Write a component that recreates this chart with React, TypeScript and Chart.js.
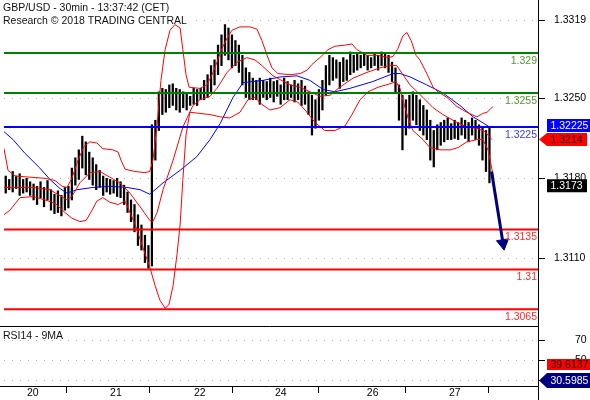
import React, { useEffect, useRef } from 'react';
import { Chart, registerables } from 'chart.js';

Chart.register(...registerables);

// ---------------- data ----------------
const titleLines = ['GBP/USD - 30min - 13:37:42 (CET)', 'Research \u00A9 2018 TRADING CENTRAL'];
const rsiTitle = 'RSI14 - 9MA';

const priceTicks = [1.3319, 1.325, 1.318, 1.311];
const rsiTicks = [70, 50, 30];
const dayTickPos = [5.5, 29.4, 53.5, 76.8, 103.2, 126.8];
const dayLabels = ['20', '21', '22', '24', '26', '27'];

const levelValues = [1.329, 1.3255, 1.3225, 1.3135, 1.31, 1.3065];
const levelLabels = ['1.329', '1.3255', '1.3225', '1.3135', '1.31', '1.3065'];

const lastPrice = 1.3173;
const bandMidLast = 1.3214;
const blueLevelQuote = '1.32225';
const rsiLast = 30.5985;
const rsiMaLast = 39.6137;

// hourly bars [low, high]
const barRanges = [
  [1.3167, 1.3182], [1.3170, 1.3179], [1.3168, 1.3186], [1.3171, 1.3182], [1.3165, 1.3184], [1.3167, 1.3179],
  [1.3168, 1.3180], [1.3165, 1.3177], [1.3161, 1.3175], [1.3157, 1.3173], [1.3163, 1.3177], [1.3155, 1.3172],
  [1.3161, 1.3178], [1.3152, 1.3170], [1.3149, 1.3166], [1.3150, 1.3169], [1.3147, 1.3165], [1.3152, 1.3172], [1.3154, 1.3173],
  [1.3161, 1.3189], [1.3174, 1.3198], [1.3179, 1.3205], [1.3189, 1.3217], [1.3183, 1.3212], [1.3179, 1.3203],
  [1.3174, 1.3198], [1.3170, 1.3192], [1.3172, 1.3187], [1.3165, 1.3182], [1.3168, 1.3180], [1.3166, 1.3179], [1.3167, 1.3178], [1.3164, 1.3180], [1.3163, 1.3177],
  [1.3157, 1.3174], [1.3150, 1.3168], [1.3142, 1.3161], [1.3133, 1.3157], [1.3121, 1.3148], [1.3117, 1.3139], [1.3106, 1.3130], [1.3101, 1.3121], [1.3103, 1.3227],
  [1.3196, 1.3231], [1.3222, 1.3256], [1.3236, 1.3259], [1.3238, 1.3258], [1.3242, 1.3262], [1.3244, 1.3263], [1.3240, 1.3259],
  [1.3238, 1.3258], [1.3242, 1.3256], [1.3240, 1.3254], [1.3244, 1.3252], [1.3245, 1.3259], [1.3244, 1.3258], [1.3249, 1.3259],
  [1.3249, 1.3266], [1.3251, 1.3271], [1.3256, 1.3279], [1.3262, 1.3284], [1.3271, 1.3297], [1.3279, 1.3306], [1.3288, 1.3315],
  [1.3284, 1.3312], [1.3277, 1.3306], [1.3279, 1.3301], [1.3273, 1.3297], [1.3262, 1.3288], [1.3251, 1.3277], [1.3249, 1.3273],
  [1.3249, 1.3268], [1.3249, 1.3266], [1.3245, 1.3268], [1.3251, 1.3266], [1.3249, 1.3265], [1.3251, 1.3268], [1.3247, 1.3265],
  [1.3252, 1.3266], [1.3245, 1.3262], [1.3249, 1.3268], [1.3249, 1.3265], [1.3251, 1.3262], [1.3247, 1.3266], [1.3249, 1.3263],
  [1.3244, 1.3266], [1.3245, 1.3261], [1.3236, 1.3256], [1.3218, 1.3253], [1.3224, 1.3249], [1.3231, 1.3258], [1.3240, 1.3266],
  [1.3253, 1.3279], [1.3262, 1.3288], [1.3266, 1.3286], [1.3268, 1.3284], [1.3259, 1.3282], [1.3265, 1.3286], [1.3266, 1.3284],
  [1.3271, 1.3291], [1.3273, 1.3288], [1.3275, 1.3289], [1.3277, 1.3288], [1.3279, 1.3290], [1.3275, 1.3288], [1.3277, 1.3286],
  [1.3279, 1.3289], [1.3275, 1.3288], [1.3279, 1.3291], [1.3277, 1.3289], [1.3273, 1.3288], [1.3265, 1.3282], [1.3256, 1.3277],
  [1.3231, 1.3262], [1.3205, 1.3253], [1.3218, 1.3249], [1.3224, 1.3253], [1.3231, 1.3256], [1.3227, 1.3253], [1.3222, 1.3249],
  [1.3218, 1.3244], [1.3214, 1.3240], [1.3196, 1.3231], [1.3190, 1.3222], [1.3205, 1.3227], [1.3209, 1.3229], [1.3212, 1.3231],
  [1.3214, 1.3233], [1.3214, 1.3228], [1.3215, 1.3231], [1.3214, 1.3229], [1.3218, 1.3233], [1.3215, 1.3231], [1.3212, 1.3229],
  [1.3218, 1.3233], [1.3214, 1.3231], [1.3209, 1.3227], [1.3196, 1.3224], [1.3186, 1.3222], [1.3176, 1.3224],
];

// [bar index, price]
const upperBand = [
  [-0.5, 1.3206], [0.65, 1.3187], [2.7, 1.3182], [7.0, 1.3181], [11.3, 1.3180], [14.2, 1.3178], [16.2, 1.3173], [17.6, 1.3172],
  [19.0, 1.3180], [20.8, 1.3196], [22.5, 1.3208], [24.2, 1.3212], [26.2, 1.3211], [27.9, 1.3206], [30.8, 1.3205], [32.3, 1.3203],
  [33.1, 1.3196], [34.3, 1.3188], [37.1, 1.3186], [40.0, 1.3185], [41.4, 1.3186], [42.3, 1.3196], [43.5, 1.3227], [44.6, 1.3266],
  [45.8, 1.3293], [47.2, 1.3310], [48.6, 1.3315], [50.1, 1.3312], [50.9, 1.3293], [51.8, 1.3271], [52.7, 1.3260], [55.8, 1.3259],
  [57.8, 1.3262], [59.3, 1.3271], [60.7, 1.3282], [62.1, 1.3294], [63.6, 1.3303], [65.0, 1.3310], [67.3, 1.3313], [70.2, 1.3313],
  [72.2, 1.3311], [73.6, 1.3301], [75.1, 1.3288], [76.5, 1.3277], [78.2, 1.3272], [81.7, 1.3271], [84.6, 1.3272], [86.6, 1.3275],
  [88.0, 1.3280], [90.3, 1.3286], [92.6, 1.3293], [94.6, 1.3296], [97.5, 1.3297], [99.5, 1.3298], [100.9, 1.3293], [103.8, 1.3288],
  [107.0, 1.3288], [109.8, 1.3286], [111.3, 1.3287], [112.7, 1.3294], [114.1, 1.3305], [115.3, 1.3308], [116.5, 1.3301],
  [117.9, 1.3288], [119.0, 1.3284], [121.0, 1.3272], [122.8, 1.3260], [124.2, 1.3256], [126.8, 1.3251], [129.7, 1.3243],
  [132.5, 1.3238], [135.4, 1.3234], [137.1, 1.3237], [138.3, 1.3238], [140.0, 1.3243],
];

const middleBand = [
  [-0.5, 1.3172], [4.1, 1.3172], [7.8, 1.3172], [12.7, 1.3170], [17.6, 1.3161], [19.0, 1.3164], [21.3, 1.3176], [24.2, 1.3185],
  [27.1, 1.3186], [29.9, 1.3181], [32.8, 1.3176], [35.7, 1.3167], [38.6, 1.3155], [41.4, 1.3143], [42.3, 1.3142], [43.5, 1.3150],
  [45.2, 1.3170], [48.1, 1.3196], [50.9, 1.3225], [53.8, 1.3244], [55.8, 1.3249], [58.7, 1.3252], [60.7, 1.3259], [63.6, 1.3273],
  [66.5, 1.3282], [69.3, 1.3286], [71.6, 1.3284], [73.6, 1.3279], [76.8, 1.3270], [81.7, 1.3262], [84.6, 1.3260], [87.4, 1.3256],
  [90.3, 1.3252], [93.2, 1.3253], [96.0, 1.3260], [99.8, 1.3268], [103.8, 1.3273], [107.5, 1.3277], [110.4, 1.3279],
  [112.4, 1.3279], [113.9, 1.3272], [116.2, 1.3262], [119.9, 1.3251], [122.8, 1.3242], [125.6, 1.3236], [129.7, 1.3229],
  [132.5, 1.3225], [135.4, 1.3224], [137.7, 1.3221], [139.7, 1.3214],
];

const lowerBand = [
  [-0.5, 1.3148], [1.2, 1.3152], [4.1, 1.3163], [7.8, 1.3164], [11.3, 1.3161], [14.2, 1.3158], [17.0, 1.3150], [19.0, 1.3145],
  [21.3, 1.3142], [23.1, 1.3143], [24.8, 1.3152], [26.2, 1.3160], [27.9, 1.3163], [29.9, 1.3159], [32.3, 1.3157], [34.3, 1.3160],
  [37.1, 1.3140], [40.0, 1.3114], [41.4, 1.3102], [42.9, 1.3086], [44.3, 1.3073], [45.8, 1.3066], [46.9, 1.3069], [48.1, 1.3086],
  [49.2, 1.3113], [50.1, 1.3139], [50.9, 1.3179], [51.8, 1.3218], [52.9, 1.3238], [55.8, 1.3237], [58.7, 1.3236], [61.6, 1.3234],
  [64.4, 1.3233], [67.3, 1.3238], [69.6, 1.3249], [71.6, 1.3251], [73.6, 1.3245], [75.9, 1.3240], [78.8, 1.3242], [81.7, 1.3249],
  [83.9, 1.3247], [86.0, 1.3240], [88.9, 1.3229], [91.7, 1.3222], [94.6, 1.3222], [97.5, 1.3226], [99.5, 1.3236], [101.8, 1.3249],
  [104.1, 1.3256], [107.0, 1.3260], [110.4, 1.3263], [112.1, 1.3265], [113.3, 1.3259], [114.1, 1.3249], [115.6, 1.3233],
  [117.0, 1.3222], [119.9, 1.3214], [121.9, 1.3207], [124.8, 1.3205], [127.7, 1.3205], [130.0, 1.3207], [132.5, 1.3212],
  [135.4, 1.3214], [137.1, 1.3214], [138.6, 1.3205], [140.3, 1.3179],
];

const blueMa = [
  [-0.5, 1.3221], [2.1, 1.3214], [5.5, 1.3202], [9.8, 1.3189], [12.7, 1.3179], [15.6, 1.3171], [17.6, 1.3167], [20.5, 1.3170],
  [25.1, 1.3172], [29.9, 1.3173], [34.8, 1.3172], [38.6, 1.3170], [41.4, 1.3166], [45.2, 1.3176], [50.1, 1.3187], [54.9, 1.3199],
  [58.7, 1.3214], [61.6, 1.3228], [65.3, 1.3251], [68.2, 1.3264], [73.9, 1.3266], [78.8, 1.3269], [83.7, 1.3270], [87.4, 1.3266],
  [91.2, 1.3258], [94.6, 1.3256], [98.9, 1.3259], [105.5, 1.3265], [111.3, 1.3272], [113.3, 1.3272], [116.2, 1.3269],
  [121.0, 1.3262], [125.6, 1.3255], [130.5, 1.3244], [134.3, 1.3234], [139.1, 1.3225],
];

// [bar index, RSI]
const rsiLine = [
  [-0.5, 37], [0.4, 44], [1.8, 46], [3.2, 48], [4.7, 43], [6.1, 47], [7.5, 45], [9.0, 40], [10.4, 45], [11.9, 49], [13.3, 52],
  [14.7, 44], [16.2, 46], [17.6, 50], [19.0, 63], [19.9, 66], [20.8, 58], [21.9, 64], [22.5, 67], [23.6, 58], [24.8, 55],
  [26.2, 48], [27.7, 50], [29.1, 45], [30.5, 47], [32.0, 42], [33.4, 45], [34.8, 40], [36.3, 38], [37.7, 27], [38.6, 35],
  [39.4, 32], [40.6, 28], [41.4, 38], [42.0, 63], [42.9, 70], [43.8, 73], [44.9, 75], [46.3, 70], [47.2, 72], [48.6, 67],
  [50.1, 63], [51.5, 60], [52.9, 62], [54.4, 58], [55.8, 63], [57.3, 62], [58.7, 65], [60.1, 67], [61.6, 72], [62.7, 76],
  [63.9, 73], [65.0, 58], [66.2, 52], [67.3, 55], [68.5, 40], [69.6, 45], [70.8, 42], [72.2, 45], [73.6, 44], [75.1, 46],
  [76.5, 48], [77.9, 48], [79.4, 53], [80.8, 47], [82.3, 50], [83.7, 47], [84.6, 50], [85.4, 45], [87.4, 40], [88.3, 28],
  [89.4, 43], [90.3, 40], [91.2, 50], [92.3, 60], [93.2, 62], [94.6, 57], [96.0, 57], [98.1, 58], [99.8, 57], [101.8, 57],
  [104.7, 55], [106.7, 58], [107.5, 62], [108.4, 58], [110.4, 57], [111.0, 40], [112.4, 40], [113.3, 37], [114.7, 25],
  [116.2, 37], [118.2, 38], [119.9, 35], [121.9, 28], [122.8, 43], [124.8, 42], [126.8, 45], [128.5, 47], [130.5, 48],
  [132.5, 47], [134.0, 45], [134.8, 51], [136.3, 35], [137.1, 47], [138.6, 48], [139.7, 30.6],
];

const rsiMa = [
  [-0.5, 35], [2.1, 42], [6.1, 43], [9.8, 42], [13.6, 42], [17.6, 45], [20.5, 53], [23.3, 60], [26.2, 57], [29.1, 48],
  [32.8, 45], [36.6, 40], [39.4, 33], [40.9, 35], [42.3, 50], [44.3, 67], [46.3, 72], [50.1, 68], [53.8, 62], [57.8, 62],
  [61.6, 70], [64.4, 70], [66.5, 63], [69.3, 53], [72.2, 47], [75.1, 47], [79.7, 47], [83.7, 48], [87.4, 43], [90.3, 42],
  [94.0, 55], [98.9, 57], [105.5, 57], [109.5, 58], [111.3, 50], [114.1, 37], [117.0, 33], [119.9, 37], [123.9, 38],
  [127.7, 43], [131.4, 47], [135.4, 45], [138.3, 43], [139.7, 39.6],
];

const rsiTrend = [[62.1, 75], [152.95, 48.3]];
const forecastArrow = [[139.6, 1.3186], [142.9, 1.3123]];

// axis ranges
const X_MIN = -0.5;
const X_MAX = 152.95;
const Y_MIN = 1.30503;
const Y_MAX = 1.33366;
const R_MIN = 24;
const R_MAX = 84;

// ---------------- styles ----------------
const FAMILY = '"Liberation Sans", Arial, Helvetica, sans-serif';
const FS = 10.5;
const FONT = `${FS}px ${FAMILY}`;
const levelLineColors = ['#008000', '#008000', '#0000ff', '#ff0000', '#ff0000', '#ff0000'];
const levelTextColors = ['#4f9a2c', '#4f9a2c', '#3838ff', '#ff2a2a', '#ff2a2a', '#ff2a2a'];

export default function App() {
  const ref = useRef<HTMLCanvasElement>(null);

  useEffect(() => {
    const canvas = ref.current as HTMLCanvasElement;
    const toXY = (arr: number[][]) => arr.map(([x, y]) => ({ x, y }));
    const resetPad = (s: any) => {
      s.paddingLeft = 0;
      s.paddingRight = 0;
      s.paddingTop = 0;
      s.paddingBottom = 0;
    };
    const lineDs = (data: number[][], color: string, axis: string, order: number, width = 1): any => ({
      type: 'line',
      data: toXY(data),
      borderColor: color,
      backgroundColor: color,
      borderWidth: width,
      pointRadius: 0,
      tension: 0,
      fill: false,
      xAxisID: 'x',
      yAxisID: axis,
      order,
    });

    const datasets: any[] = [
      {
        type: 'bar',
        data: barRanges.map((b, i) => ({ x: i, y: b })),
        backgroundColor: '#000',
        borderWidth: 0,
        barThickness: 1.6,
        xAxisID: 'x',
        yAxisID: 'y',
        order: 20,
      },
      lineDs(blueMa, '#0000ff', 'y', 10),
      lineDs(upperBand, '#ff0000', 'y', 9),
      lineDs(middleBand, '#ff0000', 'y', 9),
      lineDs(lowerBand, '#ff0000', 'y', 9),
      ...levelValues.map((v, k) => lineDs([[X_MIN, v], [X_MAX, v]], levelLineColors[k], 'y', 5, 2)),
      {
        ...lineDs(forecastArrow, '#000080', 'y', 1, 3),
        pointRadius: [0, 7],
        pointStyle: 'triangle',
        pointRotation: [0, 171],
        pointBackgroundColor: '#000080',
        pointBorderColor: '#000080',
        pointBorderWidth: 1,
      },
      lineDs(rsiMa, '#ff0000', 'r', 4),
      lineDs(rsiLine, '#000080', 'r', 3),
      lineDs(rsiTrend, '#000080', 'r', 2, 2.5),
    ];

    const drawBox = (ctx: CanvasRenderingContext2D, yc: number, h: number, x0: number, x1: number,
      fill: string, textColor: string, text: string, tip?: number) => {
      ctx.fillStyle = fill;
      ctx.beginPath();
      if (tip !== undefined) {
        ctx.moveTo(tip, yc);
        ctx.lineTo(x0, yc - h / 2);
        ctx.lineTo(x1, yc - h / 2);
        ctx.lineTo(x1, yc + h / 2);
        ctx.lineTo(x0, yc + h / 2);
      } else {
        ctx.rect(x0, yc - h / 2, x1 - x0, h);
      }
      ctx.closePath();
      ctx.fill();
      ctx.fillStyle = textColor;
      ctx.textAlign = 'left';
      ctx.textBaseline = 'middle';
      ctx.fillText(text, x0 + 3.5, yc + 0.5);
    };

    const overlay = {
      id: 'overlay',
      beforeDatasetsDraw(chart: any) {
        const ctx = chart.ctx as CanvasRenderingContext2D;
        ctx.save();
        ctx.font = FONT;
        const w = Math.max(...titleLines.map((t) => ctx.measureText(t).width));
        ctx.fillStyle = '#fff';
        ctx.fillRect(0, 0, w + 5, 25);
        ctx.restore();
      },
      afterDraw(chart: any) {
        const ctx = chart.ctx as CanvasRenderingContext2D;
        const area = chart.chartArea;
        const yS = chart.scales.y;
        const rS = chart.scales.r;
        ctx.save();
        // frame lines
        ctx.strokeStyle = '#000';
        ctx.lineWidth = 1;
        ctx.beginPath();
        const ax = Math.round(area.right) + 0.5;
        ctx.moveTo(ax, 0);
        ctx.lineTo(ax, chart.height);
        const sep = Math.round(rS.top) + 0.5;
        ctx.moveTo(0, sep);
        ctx.lineTo(ax, sep);
        const bot = Math.round(rS.bottom) + 0.5;
        ctx.moveTo(0, bot);
        ctx.lineTo(ax, bot);
        ctx.stroke();

        // title
        ctx.font = FONT;
        ctx.fillStyle = '#111';
        ctx.textAlign = 'left';
        ctx.textBaseline = 'alphabetic';
        ctx.fillText(titleLines[0], 3, 10.5);
        ctx.fillText(titleLines[1], 3, 23.5);
        ctx.fillText(rsiTitle, 3, 339);

        // level labels
        ctx.textAlign = 'right';
        ctx.textBaseline = 'middle';
        levelValues.forEach((v, k) => {
          ctx.fillStyle = levelTextColors[k];
          ctx.fillText(levelLabels[k], area.right - 1, yS.getPixelForValue(v) + 8);
        });

        // price boxes
        drawBox(ctx, yS.getPixelForValue(levelValues[2]) - 1.5, 13, 547, 590, '#0000ff', '#fff', blueLevelQuote);
        drawBox(ctx, yS.getPixelForValue(bandMidLast), 13, 547, 587, '#ff0000', '#1a0000', bandMidLast.toFixed(4), 539);
        drawBox(ctx, yS.getPixelForValue(lastPrice) - 0.5, 13, 547, 587, '#000000', '#fff', lastPrice.toFixed(4));
        drawBox(ctx, rS.getPixelForValue(rsiMaLast) - 6, 11, 547, 590, '#ff0000', '#1a0000', rsiMaLast.toFixed(4));
        drawBox(ctx, rS.getPixelForValue(rsiLast) + 1, 15, 547, 590, '#000080', '#fff', rsiLast.toFixed(4), 539);
        ctx.restore();
      },
    };

    const font = { family: FAMILY, size: FS };
    const chart = new Chart(canvas, {
      type: 'line',
      data: { datasets },
      options: {
        animation: false,
        responsive: false,
        events: [],
        layout: { autoPadding: false, padding: { left: 4, right: 0, top: 0, bottom: 0 } },
        plugins: { legend: { display: false }, tooltip: { enabled: false } },
        scales: {
          x: {
            type: 'linear',
            position: 'bottom',
            min: X_MIN,
            max: X_MAX,
            offset: false,
            border: { display: false },
            grid: { drawOnChartArea: false, drawTicks: true, tickLength: 7, tickColor: '#000', tickWidth: 1 },
            ticks: {
              align: 'start',
              labelOffset: 2,
              padding: -6,
              autoSkip: false,
              maxRotation: 0,
              minRotation: 0,
              color: '#000',
              font,
              callback: (_v: any, i: number) => dayLabels[i] ?? '',
            },
            afterBuildTicks: (s: any) => { s.ticks = dayTickPos.map((v) => ({ value: v })); },
            afterFit: (s: any) => { s.height = 14; resetPad(s); },
          },
          y: {
            type: 'linear',
            position: 'right',
            stack: 'panes',
            stackWeight: 326,
            min: Y_MIN,
            max: Y_MAX,
            border: { display: false, dash: [1, 7] },
            grid: { color: '#b0b0b0', drawTicks: true, tickLength: 7, tickColor: '#000', tickWidth: 1, tickBorderDash: [] },
            ticks: { padding: 9, color: '#000', font, autoSkip: false, callback: (v: any) => Number(v).toFixed(4) },
            afterBuildTicks: (s: any) => { s.ticks = priceTicks.map((v) => ({ value: v })); },
            afterFit: (s: any) => { s.width = 52; resetPad(s); },
          },
          r: {
            type: 'linear',
            position: 'right',
            stack: 'panes',
            stackWeight: 60,
            min: R_MIN,
            max: R_MAX,
            border: { display: false, dash: [1, 7] },
            grid: { color: '#b0b0b0', drawTicks: true, tickLength: 7, tickColor: '#000', tickWidth: 1, tickBorderDash: [] },
            ticks: { padding: 30, color: '#000', font, autoSkip: false, callback: (v: any) => String(v) },
            afterBuildTicks: (s: any) => { s.ticks = rsiTicks.map((v) => ({ value: v })); },
            afterFit: (s: any) => { s.width = 52; resetPad(s); },
          },
        } as any,
      },
      plugins: [overlay as any],
    } as any);
    return () => chart.destroy();
  }, []);

  return (
    <div style={{ position: 'fixed', left: 0, top: 0, width: 590, height: 400, background: '#fff' }}>
      <canvas ref={ref} width={590} height={400} style={{ display: 'block' }} />
    </div>
  );
}
